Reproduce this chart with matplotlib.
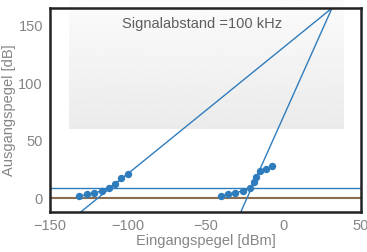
import numpy as np
import matplotlib
matplotlib.use("Agg")
import matplotlib.pyplot as plt

# --- data ---
x_links = [-131.2, -126.3, -121.6, -116.7, -112.1, -108.1, -104.0, -100.0]
y_links = [1.7, 3.2, 4.4, 6.4, 9.0, 12.5, 17.2, 20.9]

x_rechts = [-40.3, -35.5, -30.8, -26.2, -21.5, -18.9, -17.5, -15.1, -11.3, -7.3]
y_rechts = [1.7, 3.5, 4.6, 6.4, 9.0, 13.7, 18.3, 23.5, 25.5, 27.6]

ip3_x, ip3_y = 31.3, 165.6       # schnittpunkt der beiden geraden
steigung_1 = 1.10
steigung_3 = 3.03
rauschen = 8.5                    # blaue linie
grundlinie = 0.0                  # braune linie

xticks = [-150, -100, -50, 0, 50]
yticks = [0, 50, 100, 150]

blau = "#2f7cbd"
grau = "#858585"
schrift = "Liberation Sans"

fig = plt.figure(figsize=(3.67, 2.52), dpi=100)
ax = fig.add_axes([0.136, 0.159, 0.848, 0.809])

# grauer verlaufskasten hinter der beschriftung
verlauf = np.linspace(0.985, 0.92, 64).reshape(-1, 1)
ax.imshow(verlauf, cmap="gray", vmin=0, vmax=1, aspect="auto",
          extent=(-137.5, 39, 60, 173), origin="upper", clip_on=False, zorder=0)
ax.set_xlim(-147, 50)
ax.set_ylim(-12, 165.6)

ax.axhline(grundlinie, color="#8c6d4f", lw=1.5, zorder=2)
ax.axhline(rauschen, color=blau, lw=1.0, zorder=2)

xs = np.array([-160, ip3_x])
ax.plot(xs, ip3_y + steigung_1 * (xs - ip3_x), color=blau, lw=1.0, zorder=3)
ax.plot(xs, ip3_y + steigung_3 * (xs - ip3_x), color=blau, lw=1.0, zorder=3)

ax.plot(x_links, y_links, "-o", color=blau, ms=4.3, lw=1.0, zorder=4)
ax.plot(x_rechts, y_rechts, "-o", color=blau, ms=4.3, lw=1.0, zorder=4)

ax.text(-52, 151.5, "Signalabstand =100 kHz", ha="center", va="center",
        fontsize=10.5, color="#5e5e5e", family=schrift)

ax.set_xticks(xticks)
ax.set_yticks(yticks)
ax.tick_params(length=0, labelsize=10.5, colors=grau, pad=5)
for lab in ax.get_xticklabels() + ax.get_yticklabels():
    lab.set_family(schrift)
ax.set_xlabel("Eingangspegel [dBm]", fontsize=10.5, color=grau,
              family=schrift, labelpad=1)
ax.set_ylabel("Ausgangspegel [dB]", fontsize=10.5, color=grau,
              family=schrift, labelpad=2)

for s in ax.spines.values():
    s.set_linewidth(1.8)
    s.set_color("#222222")
    s.set_zorder(5)

fig.savefig("out.png", dpi=100)
